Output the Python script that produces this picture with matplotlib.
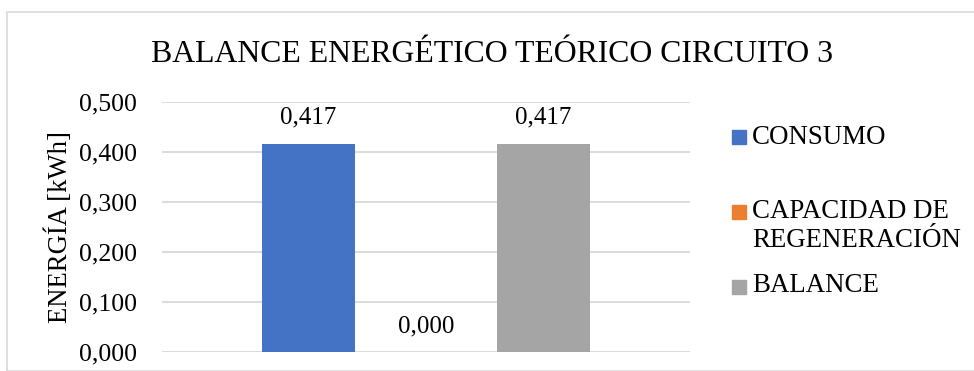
import matplotlib
matplotlib.use("Agg")
import matplotlib.pyplot as plt
from matplotlib.patches import Rectangle
from matplotlib.ticker import FuncFormatter

# Series of the energy balance chart
series_names = ["CONSUMO", "CAPACIDAD DE\nREGENERACIÓN", "BALANCE"]
series_values = [0.417, 0.000, 0.417]
series_colors = ["#4472C4", "#ED7D31", "#A5A5A5"]
y_ticks = [0.0, 0.1, 0.2, 0.3, 0.4, 0.5]
title = "BALANCE ENERGÉTICO TEÓRICO CIRCUITO 3"
y_label = "ENERGÍA [kWh]"

W, H, DPI = 974, 371, 100
plt.rcParams["font.family"] = ["Liberation Serif", "DejaVu Serif"]

fig = plt.figure(figsize=(W / DPI, H / DPI), dpi=DPI)

def px(x0, y0, x1, y1):
    """Pixel box (top-left origin) to figure-fraction rect."""
    return [x0 / W, 1 - y1 / H, (x1 - x0) / W, (y1 - y0) / H]

# Chart frame
fig.patches.append(Rectangle((6.5 / W, 0), 1, 1 - 11.5 / H, transform=fig.transFigure,
                             fill=False, edgecolor="#D9D9D9", linewidth=1.2))

ax = fig.add_axes(px(162, 102, 690, 352))
offsets = [-0.2225, 0.0, 0.2225]
bar_w = 0.176
for off, v, c in zip(offsets, series_values, series_colors):
    ax.bar(off, v, width=bar_w, color=c, zorder=3)
    ax.annotate(f"{v:.3f}".replace(".", ","), xy=(off, v), xytext=(0, 10.5),
                textcoords="offset points", ha="center", va="bottom", fontsize=18)

ax.set_xlim(-0.5, 0.5)
ax.set_ylim(0, 0.5)
ax.set_yticks(y_ticks)
ax.yaxis.set_major_formatter(FuncFormatter(lambda v, p: f"{v:.3f}".replace(".", ",")))
ax.set_xticks([])
ax.tick_params(axis="y", length=0, pad=18, labelsize=18.5)
ax.grid(axis="y", color="#D9D9D9", linewidth=1.3, zorder=0)
for s in ax.spines.values():
    s.set_visible(False)
ax.set_ylabel(y_label, fontsize=19.2, labelpad=4.5)

fig.text(492 / W, 1 - 55 / H, title, ha="center", va="center", fontsize=22.9)

# Legend entries: swatch sits beside the first line of each label
text_y = [137, 226, 285]
swatch_y = [137, 211.5, 287]
for name, c, yt, ys in zip(series_names, series_colors, text_y, swatch_y):
    fig.patches.append(Rectangle((732 / W, 1 - (ys + 7) / H), 14 / W, 14 / H,
                                 transform=fig.transFigure, color=c))
    fig.text(752 / W, 1 - yt / H, name, ha="left", va="center", fontsize=19.4,
             linespacing=1.22)

fig.savefig("out.png", dpi=DPI)
